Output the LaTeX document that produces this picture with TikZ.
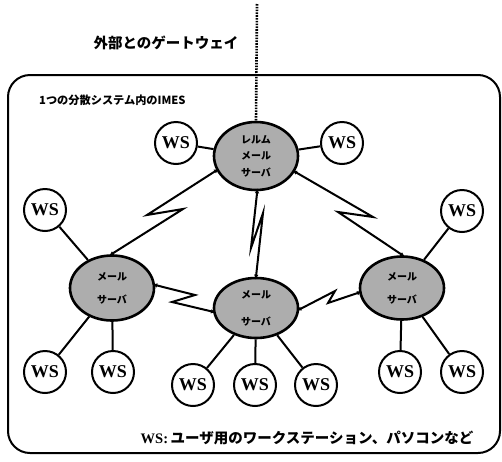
\documentclass[tikz,border=0pt]{standalone}
\usepackage{fontspec}
\setmainfont{Liberation Serif}
\newfontfamily\jp{Noto Sans CJK JP}
\usetikzlibrary{shapes.geometric,arrows.meta}
\tikzset{
  srv/.style={ellipse,draw,line width=2.6pt,fill=black!32,minimum width=84pt,minimum height=64pt,inner sep=0pt,align=center,font=\jp\bfseries\fontsize{10}{23}\selectfont},
  ws/.style={circle,draw,line width=2pt,fill=white,minimum size=42pt,inner sep=0pt,font=\bfseries\fontsize{18}{18}\selectfont},
  wsline/.style={line width=2pt},
  link/.style={line width=2pt,line join=miter,{Latex[length=5pt,width=4.5pt]}-{Latex[length=5pt,width=4.5pt]},shorten <=-3pt,shorten >=-3pt},
  gwline/.style={line width=2.6pt,dash pattern=on 1.6pt off 1.2pt},
  frame/.style={line width=2pt,rounded corners=22pt},
  lbl/.style={font=\jp\bfseries\fontsize{14.5}{16}\selectfont,inner sep=0pt}
}
\begin{document}
\begin{tikzpicture}[x=1pt,y=-1pt]
\useasboundingbox (0,0) rectangle (502,461);
\draw[frame] (8,75) rectangle (500,453);
\node[lbl] (gwtext) at (166,43) {外部とのゲートウェイ};
\node[lbl,font=\jp\bfseries\fontsize{11.2}{13}\selectfont,anchor=west] (imes) at (39,100) {1つの分散システム内のIMES};
\node[inner sep=0pt] (legend) at (307,438) {{\bfseries\fontsize{14.5}{16}\selectfont WS:} {\jp\bfseries\fontsize{14.5}{16}\selectfont ユーザ用のワークステーション、パソコンなど}};

% servers
\node[srv,minimum height=68pt,font=\jp\bfseries\fontsize{10}{16.5}\selectfont] (realm) at (256,156) {レルム\\メール\\サーバ};
\node[srv,minimum height=65pt] (lsrv) at (112,288) {メール\\サーバ};
\node[srv,minimum height=60pt,font=\jp\bfseries\fontsize{10}{27}\selectfont] (msrv) at (256,308) {メール\\サーバ};
\node[srv,minimum height=63pt] (rsrv) at (402,288) {メール\\サーバ};

% gateway
\coordinate (gw) at (257,4);
\draw[gwline] (gw) -- (realm.north);

% workstations
\node[ws] (tlws) at (176,143) {WS};
\node[ws] (trws) at (342,143) {WS};
\node[ws] (lws) at (45,210) {WS};
\node[ws] (rws) at (462,211) {WS};
\node[ws] (lb1) at (45,372) {WS};
\node[ws] (lb2) at (113,372) {WS};
\node[ws] (mb1) at (193,385) {WS};
\node[ws] (mb2) at (255,385) {WS};
\node[ws] (mb3) at (316,385) {WS};
\node[ws] (rb1) at (400,372) {WS};
\node[ws] (rb2) at (462,372) {WS};

\begin{scope}[on background layer/.style={}]
\draw[wsline] (tlws) -- (realm);
\draw[wsline] (trws) -- (realm);
\draw[wsline] (lws) -- (lsrv);
\draw[wsline] (rws) -- (rsrv);
\draw[wsline] (lsrv) -- (lb1);
\draw[wsline] (lsrv) -- (lb2);
\draw[wsline] (msrv) -- (mb1);
\draw[wsline] (msrv) -- (mb2);
\draw[wsline] (msrv) -- (mb3);
\draw[wsline] (rsrv) -- (rb1);
\draw[wsline] (rsrv) -- (rb2);
\end{scope}

% server links (lightning)
\draw[link] (realm.200) -- (147,215) -- (183,209) -- (lsrv.91);
\draw[link] (realm.338) -- (373,217) -- (338,212) -- (rsrv.89);
\draw[link] (realm.272) -- (251,248) -- (263,213) -- (msrv.north);
\draw[link] (lsrv.4) -- (195,295) -- (172,302) -- (msrv.185);
\draw[link] (msrv.358) -- (335,291) -- (328,303) -- (rsrv.186);
\end{tikzpicture}
\end{document}
